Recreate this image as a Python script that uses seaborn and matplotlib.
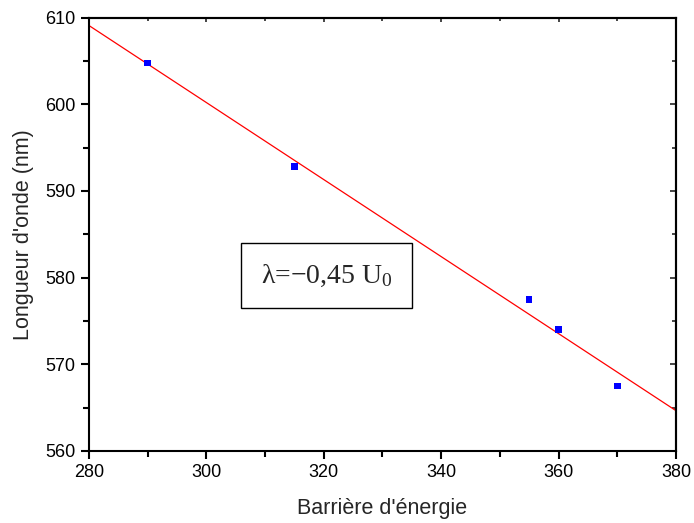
import numpy as np
import pandas as pd
import matplotlib
matplotlib.use("Agg")
import matplotlib.pyplot as plt
import seaborn as sns
from matplotlib.ticker import MultipleLocator

# Data
barriere = [290, 315, 355, 360, 370]
longueur = [604.8, 592.8, 577.5, 574.0, 567.5]
data = pd.DataFrame({"x": barriere, "y": longueur})

# Linear fit drawn over the full x range
slope, intercept = np.polyfit(barriere, longueur, 1)
fit_x = [280, 380]
fit = pd.DataFrame({"x": fit_x, "y": [slope * v + intercept for v in fit_x]})

sns.set_style("white")
plt.rcParams["font.family"] = ["Liberation Sans", "DejaVu Sans"]
plt.rcParams["mathtext.fontset"] = "custom"
plt.rcParams["mathtext.rm"] = "Liberation Serif"
plt.rcParams["mathtext.it"] = "Liberation Serif"

fig = plt.figure(figsize=(6.94, 5.23), dpi=100)
ax = fig.add_axes([0.128, 0.138, 0.846, 0.828])

sns.lineplot(data=fit, x="x", y="y", color="red", linewidth=0.9, ax=ax)
sns.scatterplot(data=data, x="x", y="y", marker="s", color="blue",
                s=22, edgecolor="none", ax=ax, zorder=3)

ax.set_xlim(280, 380)
ax.set_ylim(560, 610)
ax.xaxis.set_major_locator(MultipleLocator(20))
ax.xaxis.set_minor_locator(MultipleLocator(10))
ax.yaxis.set_major_locator(MultipleLocator(10))
ax.yaxis.set_minor_locator(MultipleLocator(5))

for s in ax.spines.values():
    s.set_linewidth(1.5)
    s.set_color("black")

ax.tick_params(which="both", direction="out", width=1.5, colors="black",
               labelsize=13, bottom=True, left=True, top=False, right=False)
ax.tick_params(which="major", length=6)
ax.tick_params(which="minor", length=4)

# small inward ticks on top and right
top = ax.secondary_xaxis("top")
top.xaxis.set_major_locator(MultipleLocator(20))
top.xaxis.set_minor_locator(MultipleLocator(10))
top.tick_params(which="both", direction="in", width=1.2, labeltop=False)
top.tick_params(which="major", length=3)
top.tick_params(which="minor", length=2)
right = ax.secondary_yaxis("right")
right.yaxis.set_major_locator(MultipleLocator(10))
right.yaxis.set_minor_locator(MultipleLocator(5))
right.tick_params(which="both", direction="in", width=1.2, labelright=False)
right.tick_params(which="major", length=4)
right.tick_params(which="minor", length=3)
for sec in (top, right):
    for s in sec.spines.values():
        s.set_linewidth(1.5)

ax.set_xlabel("Barrière d'énergie", fontsize=15.5, labelpad=12)
ax.set_ylabel("Longueur d'onde (nm)", fontsize=15.5, labelpad=8)

ax.text(320.5, 580.2, "$\\mathrm{\\lambda}$=−0,45 U$_\\mathrm{0}$",
        family="Liberation Serif", fontsize=20, ha="center", va="center",
        bbox=dict(boxstyle="square,pad=0.7", facecolor="white",
                  edgecolor="black", linewidth=1.0))

fig.savefig("out.png", dpi=100)
